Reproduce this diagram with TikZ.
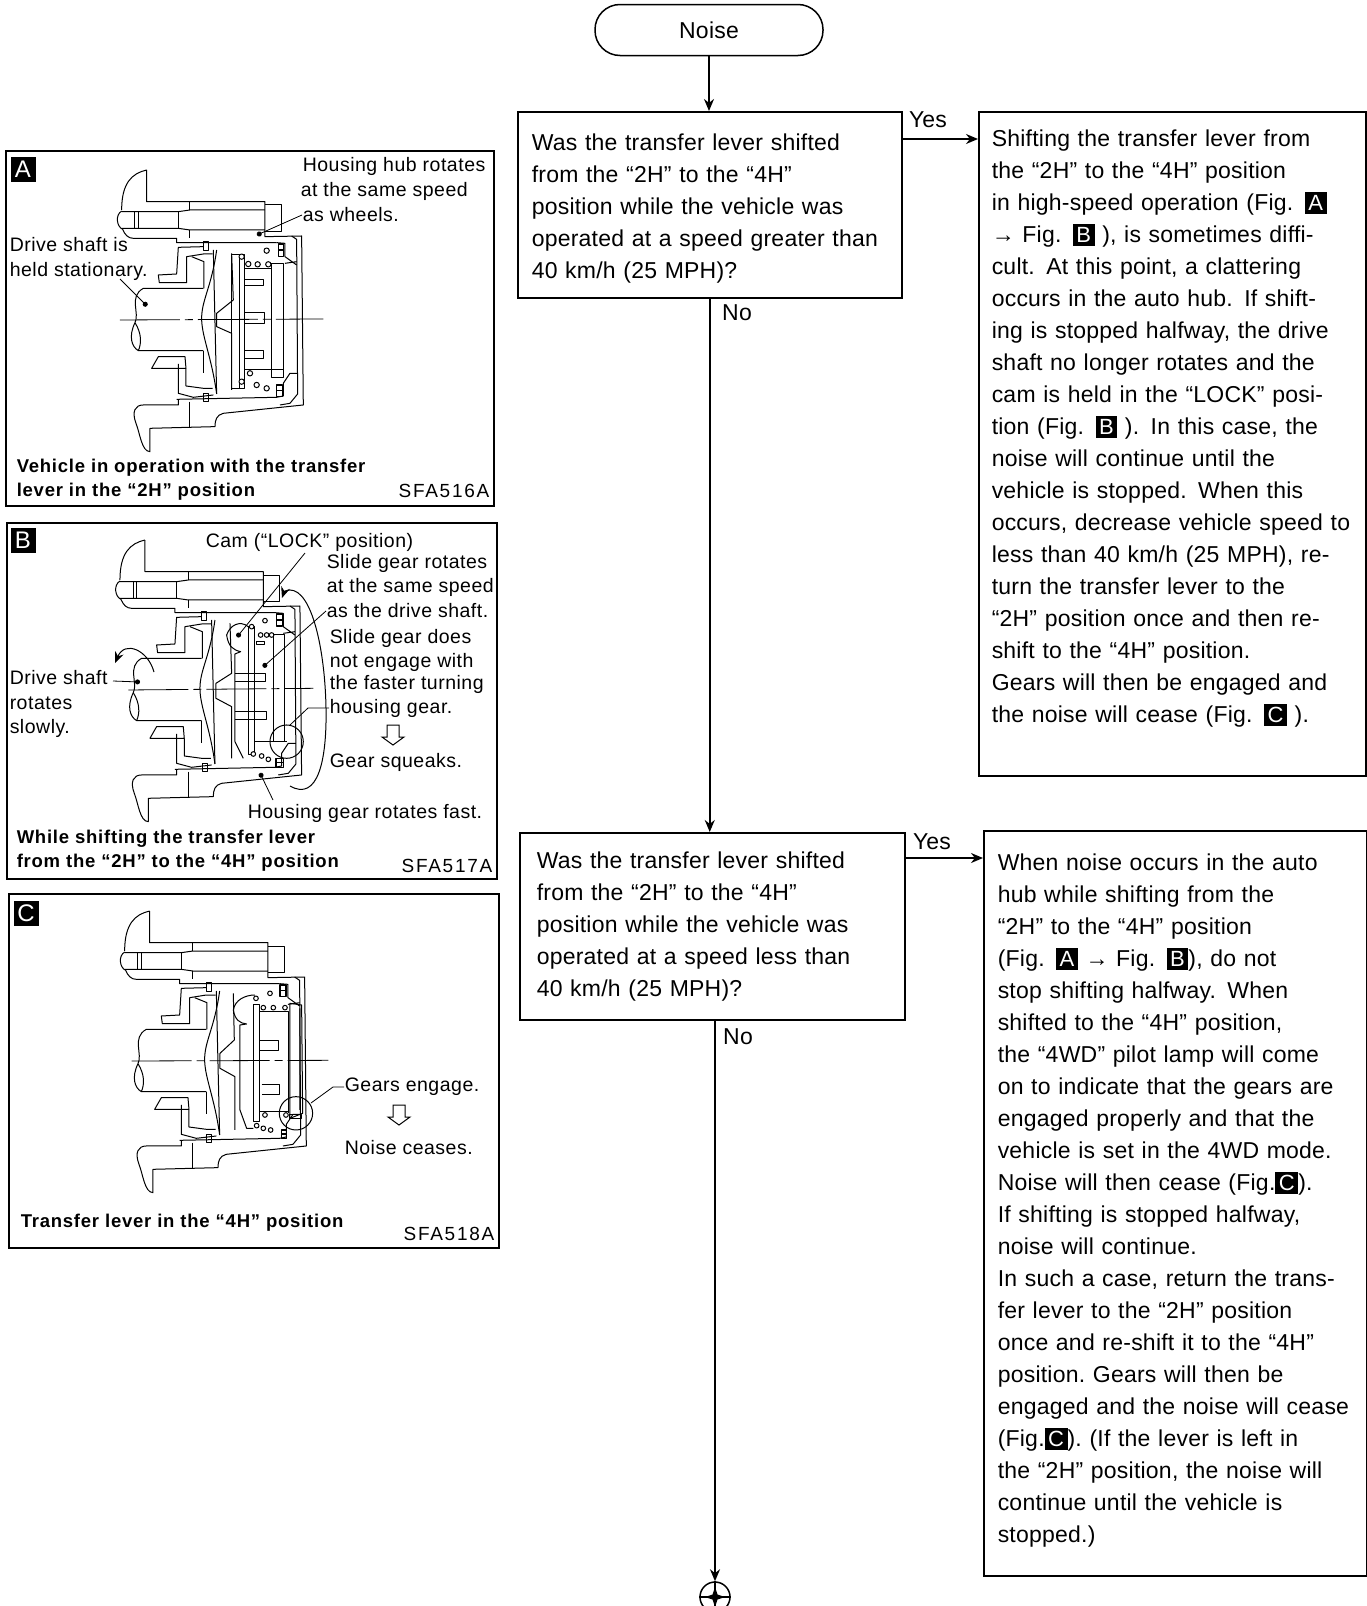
\documentclass[tikz,border=0pt]{standalone}
\usepackage{fontspec}
\setmainfont[LetterSpace=1.0]{Liberation Sans}
\newfontfamily\panelfont[LetterSpace=2.6]{Liberation Sans}
\newfontfamily\capfont[LetterSpace=4.2]{Liberation Sans}
\usetikzlibrary{arrows.meta,calc}
\newcommand{\figbadge}[1]{\raisebox{0pt}[0pt][0pt]{\setlength{\fboxsep}{3.5pt}\colorbox{black}{\textcolor{white}{\fontsize{22}{22}\selectfont #1}}}}
\tikzset{
    every picture/.style={line width=1.5pt},
    flowbox/.style={draw, rectangle, anchor=north west, align=left, font=\fontsize{23}{32}\selectfont},
    flowlink/.style={-{Stealth[length=12pt,width=10pt]}},
    flowlabel/.style={inner sep=0pt, font=\fontsize{23}{28}\selectfont},
    panelbox/.style={draw, rectangle, anchor=north west, inner sep=0pt},
    badge/.style={fill=black, text=white, inner sep=0pt, minimum size=25pt, font=\panelfont\fontsize{24}{24}\selectfont},
    lab/.style={inner sep=0pt, anchor=west, align=left, font=\panelfont\fontsize{19.5}{24.6}\selectfont},
    caption/.style={inner sep=0pt, anchor=west, align=left, font=\capfont\bfseries\fontsize{18.5}{24.4}\selectfont},
    partno/.style={inner sep=0pt, anchor=east, font=\fontsize{19}{19}\selectfont\addfontfeature{LetterSpace=9}},
    leader/.style={line width=0.8pt},
    dotend/.style={line width=0.8pt, -{Circle[length=5pt]}},
    centerline/.style={line width=0.8pt, dash pattern=on 60pt off 5pt on 8pt off 5pt},
    hubline/.style={line width=1pt, line join=round},
    hubbody/.pic={
        \draw (440,90) .. controls (395,100) and (365,130) .. (365,210);
        \draw (440,90) -- (440,185) -- (795,185) -- (795,290) -- (905,288) -- (910,795) -- (670,820)
            .. controls (650,825) and (645,840) .. (645,860) -- (450,865) -- (450,935)
            .. controls (425,935) and (420,880) .. (408,850) .. controls (395,815) and (405,795) .. (430,795) -- (535,795) -- (535,778);
        \draw (365,213) .. controls (345,225) and (350,260) .. (368,268) .. controls (375,285) and (385,295) .. (400,295) -- (530,295) -- (530,308) -- (830,308);
        \draw (365,215) -- (535,215) -- (570,210) -- (795,210);
        \draw (365,265) -- (535,265) -- (570,270) -- (795,270);
        \draw (405,215) -- (405,265) (415,215) -- (415,265) (535,215) -- (535,265);
        \draw (570,185) -- (570,210) (570,270) -- (570,295) (570,785) -- (570,865);
        \draw (795,195) -- (845,195) -- (845,275) -- (795,275);
        \draw (875,288) -- (890,298) -- (893,762) -- (870,790) -- (840,795);
        \draw (830,308) -- (855,310) -- (855,350) -- (890,375) (855,370) -- (890,365);
        \draw (530,778) -- (830,772) -- (850,768) -- (850,730) -- (870,700) -- (893,700);
        \draw (610,305) rectangle (625,332) (612,760) rectangle (627,785);
        \draw (610,320) -- (535,322) -- (530,402) -- (475,405) -- (478,428) -- (560,428) -- (560,350) -- (610,342) -- (638,342);
        \draw (575,350) -- (612,365) -- (612,445);
        \draw (610,445) -- (430,445) .. controls (385,470) and (420,520) .. (405,548) .. controls (385,590) and (395,620) .. (415,632) -- (610,632);
        \draw (405,548) .. controls (425,580) and (425,610) .. (415,632);
        \draw (610,632) -- (610,700);
        \draw (455,685) -- (475,650) -- (555,650) -- (558,685) -- cycle;
        \draw (535,672) -- (535,760) -- (580,772) -- (640,765);
        \draw (558,685) -- (558,738) -- (610,745) -- (638,745);
        \draw (640,330) -- (650,762);
        \draw (650,330) .. controls (635,440) and (605,480) .. (605,535) .. controls (605,590) and (635,650) .. (650,762);
    },
    hubA/.pic={
        \draw (695,340) -- (700,480) -- (650,520) -- (650,560) -- (695,580) -- (695,750);
        \draw (695,345) rectangle (735,745) (718,345) -- (718,745);
        \foreach \x/\y in {725/350,745/372,773/373,805/373,800/332,725/725,770/735,800/745,750/700}
            \draw[fill=white] (\x,\y) circle (8);
        \draw (735,420) -- (790,420) -- (790,438) -- (735,438);
        \draw (735,517) -- (795,517) -- (795,550) -- (735,550);
        \draw (735,632) -- (790,632) -- (790,655) -- (735,655);
        \draw (815,370) rectangle (850,690);
        \draw (735,385) -- (815,385) (735,690) -- (850,690) -- (850,712) -- (815,712) -- (815,690);
        \draw[line width=1.5pt] (835,312) rectangle (850,350) (835,330) -- (850,330) (830,735) rectangle (848,770) (830,752) -- (848,752);
        \draw[centerline] (360,540) -- (970,537);
    },
    hubB/.pic={
        \draw (690,340) -- (695,490) -- (648,520) -- (648,565) -- (695,590) -- (695,745);
        \draw (745,350) rectangle (765,735);
        \draw (680,375) .. controls (690,345) and (720,330) .. (745,350);
        \draw (680,375) .. controls (685,410) and (700,420) .. (722,425) -- (705,432) -- (705,695) -- (730,745);
        \foreach \x/\y in {755/350,795/332,760/732,785/738,805/748,782/375,800/375,815/375}
            \draw[fill=white] (\x,\y) circle (7);
        \draw (770,395) rectangle (795,405);
        \draw (705,490) -- (798,490) -- (798,515) -- (705,515);
        \draw (705,605) -- (800,605) -- (800,630) -- (705,630);
        \draw (820,375) rectangle (855,695);
        \draw (765,695) -- (860,695);
        \draw[line width=1.5pt] (830,312) rectangle (848,348) (830,330) -- (848,330) (828,745) rectangle (850,772) (828,758) -- (850,758);
        \draw[centerline] (385,540) -- (940,535);
        \draw (860,695) circle (50);
    },
    hubC/.pic={
        \draw (700,340) -- (703,480) -- (660,520) -- (660,565) -- (705,590) -- (705,750);
        \draw (760,375) rectangle (780,725);
        \draw (700,390) .. controls (705,360) and (735,345) .. (765,345);
        \draw (700,390) .. controls (705,420) and (720,430) .. (740,432) -- (720,435) -- (720,690) -- (740,745) -- (760,745);
        \foreach \x/\y in {768/355,810/340,790/383,820/383,855/383,795/705,770/737,790/745,812/750,858/705}
            \draw[fill=white] (\x,\y) circle (7);
        \draw (780,483) -- (837,483) -- (837,513) -- (780,513);
        \draw (785,615) -- (838,615) -- (838,645) -- (785,645);
        \draw (780,395) -- (865,395) -- (865,700) (780,695) -- (865,695);
        \draw (870,370) -- (905,375) -- (908,700) -- (870,715) -- cycle (900,385) -- (900,690);
        \draw (870,703) rectangle (905,715);
        \draw[line width=1.5pt] (840,315) rectangle (858,350) (840,332) -- (858,332) (845,750) rectangle (860,775) (845,762) -- (860,762);
        \draw[centerline] (395,543) -- (985,541);
        \draw (888,700) circle (50);
    },
    openarrow/.pic={
        \draw[line width=1pt] (-6,0) -- (6,0) -- (6,12) -- (11,12) -- (0,20) -- (-11,12) -- (-6,12) -- cycle;
    }
}
\begin{document}
\begin{tikzpicture}[x=1pt, y=-1pt]
    \useasboundingbox (0,0) rectangle (1367,1606);

    \node[draw, rounded corners=25pt, minimum width=228pt, minimum height=51pt, font=\fontsize{23}{28}\selectfont] (noise) at (709,30) {Noise};

    \node[flowbox, minimum width=384pt, minimum height=186pt, text width=356pt, inner xsep=14pt] (q1) at (517,111)
        {\rule{0pt}{24pt}Was the transfer lever shifted\\from the “2H” to the “4H”\\position while the vehicle was\\operated at a speed greater than\\40 km/h (25 MPH)?};
    \node[flowbox, minimum width=387pt, minimum height=664pt, text width=361pt, inner xsep=13pt] (a1) at (978,111)
        {Shifting the transfer lever from\\the “2H” to the “4H” position\\in high-speed operation (Fig. \figbadge{A}\\→ Fig. \figbadge{B} ), is sometimes diffi-\\cult.  At this point, a clattering\\occurs in the auto hub.  If shift-\\ing is stopped halfway, the drive\\shaft no longer rotates and the\\cam is held in the “LOCK” posi-\\tion (Fig. \figbadge{B} ).  In this case, the\\noise will continue until the\\vehicle is stopped.  When this\\occurs, decrease vehicle speed to\\less than 40 km/h (25 MPH), re-\\turn the transfer lever to the\\“2H” position once and then re-\\shift to the “4H” position.\\Gears will then be engaged and\\the noise will cease (Fig. \figbadge{C} ).\\[3pt]\mbox{}};
    \node[flowbox, minimum width=385pt, minimum height=187pt, text width=351pt, inner xsep=17pt] (q2) at (519,832)
        {Was the transfer lever shifted\\from the “2H” to the “4H”\\position while the vehicle was\\operated at a speed less than\\40 km/h (25 MPH)?};
    \node[flowbox, minimum width=383pt, minimum height=745pt, text width=355pt, inner xsep=14pt] (a2) at (983,830)
        {When noise occurs in the auto\\hub while shifting from the\\“2H” to the “4H” position\\(Fig. \figbadge{A} → Fig. \figbadge{B}), do not\\stop shifting halfway.  When\\shifted to the “4H” position,\\the “4WD” pilot lamp will come\\on to indicate that the gears are\\engaged properly and that the\\vehicle is set in the 4WD mode.\\Noise will then cease (Fig.\figbadge{C}).\\If shifting is stopped halfway,\\noise will continue.\\In such a case, return the trans-\\fer lever to the “2H” position\\once and re-shift it to the “4H”\\position.\ Gears will then be\\engaged and the noise will cease\\(Fig.\figbadge{C}).\ (If the lever is left in\\the “2H” position, the noise will\\continue until the vehicle is\\stopped.)\\[-22pt]\mbox{}};

    \node[draw, circle, inner sep=0pt, minimum size=30pt] (off) at (715,1597) {};
    \draw (off.north) -- (off.south) (off.west) -- (off.east);
    \fill ($(off)+(0,-10)$) -- ($(off)+(2.5,-2.5)$) -- ($(off)+(10,0)$) -- ($(off)+(2.5,2.5)$) -- ($(off)+(0,10)$) -- ($(off)+(-2.5,2.5)$) -- ($(off)+(-10,0)$) -- ($(off)+(-2.5,-2.5)$) -- cycle;

    \coordinate (yes1) at (901,139);
    \coordinate (yes2) at (904,858);
    \draw[flowlink] (noise) -- (noise |- q1.north);
    \draw[flowlink] (q1.south) -- (q1.south |- q2.north);
    \draw[flowlink] (yes1) -- (yes1 -| a1.west);
    \draw[flowlink] (yes2) -- (yes2 -| a2.west);
    \draw[flowlink] (q2.south -| off) -- (off.north);
    \node[flowlabel] (yeslab1) at (928,120) {Yes};
    \node[flowlabel] (nolab1) at (737,313) {No};
    \node[flowlabel] (yeslab2) at (932,842) {Yes};
    \node[flowlabel] (nolab2) at (738,1037) {No};

    \node[panelbox, minimum width=488pt, minimum height=355pt] (panelA) at (5,150) {};
    \node[badge] (badgeA) at (23,169) {A};
    \pic[hubline, scale=0.3333] at (0,140) {hubbody};
    \pic[hubline, scale=0.3333] at (0,140) {hubA};
    \node[lab] (hubA1) at (302,166) {Housing hub rotates};
    \node[lab] (hubA2) at (300,191) {at the same speed};
    \node[lab] (hubA3) at (302,215) {as wheels.};
    \node[lab] (shaftA) at (9,259) {Drive shaft is\\held stationary.};
    \node[caption] (capA) at (16,480) {Vehicle in operation with the transfer\\lever in the “2H” position};
    \node[partno] (noA) at (490,491) {SFA516A};
    \coordinate (dotA1) at (257,235);
    \coordinate (dotA2) at (147,306);
    \coordinate (startA2) at (120,279);
    \draw[dotend] (hubA3.west) -- (dotA1);
    \draw[dotend] (startA2) -- (dotA2);

    \node[panelbox, minimum width=490pt, minimum height=356pt] (panelB) at (6,522) {};
    \node[badge] (badgeB) at (23,540) {B};
    \pic[hubline, scale=0.3333] at (-1.7,510) {hubbody};
    \pic[hubline, scale=0.3333] at (0,510) {hubB};
    \node[lab] (camB) at (205,542) {Cam (“LOCK” position)};
    \node[lab] (rotB1) at (326,563) {Slide gear rotates};
    \node[lab] (rotB2) at (326,587) {at the same speed};
    \node[lab] (rotB3) at (326,611) {as the drive shaft.};
    \node[lab] (engB1) at (329,638) {Slide gear does};
    \node[lab] (engB2) at (329,662) {not engage with};
    \node[lab] (engB3) at (329,684) {the faster turning};
    \node[lab] (engB4) at (329,708) {housing gear.};
    \pic at (393,725) {openarrow};
    \node[lab] (squeakB) at (329,762) {Gear squeaks.};
    \node[lab] (fastB) at (247,813) {Housing gear rotates fast.};
    \node[lab] (shaftB) at (9,704) {Drive shaft\\rotates\\slowly.};
    \node[caption] (capB) at (16,851) {While shifting the transfer lever\\from the “2H” to the “4H” position};
    \node[partno] (noB) at (493,866) {SFA517A};
    \coordinate (dotB1) at (237,637);
    \coordinate (dotB2) at (263,667);
    \coordinate (dotB3) at (140,682);
    \coordinate (dotB4) at (260,773);
    \coordinate (ringB) at (290,725);
    \coordinate (startB1) at (305,553);
    \coordinate (startB3) at (113,681);
    \coordinate (startB4) at (273,800);
    \coordinate (bendB) at (308,708);
    \draw[dotend] (startB1) -- (dotB1);
    \draw[dotend] (rotB3.west) -- (dotB2);
    \draw[dotend] (startB3) -- (dotB3);
    \draw[dotend] (startB4) -- (dotB4);
    \draw[leader] (engB4.west) -- (bendB) -- (ringB);
    \draw[line width=1pt, -{Stealth[length=11pt,width=9pt]}] (290,786) .. controls (318,802) and (327,760) .. (326,708) .. controls (325,650) and (312,590) .. (290,590) .. controls (287,590) and (284,592) .. (282,598);
    \draw[line width=1pt, -{Stealth[length=11pt,width=9pt]}] (154,672) .. controls (148,650) and (125,640) .. (115,663);

    \node[panelbox, minimum width=490pt, minimum height=354pt] (panelC) at (8,893) {};
    \node[badge] (badgeC) at (26,913) {C};
    \pic[hubline, scale=0.3333] at (3,881) {hubbody};
    \pic[hubline, scale=0.3333] at (0,880) {hubC};
    \node[lab] (gearsC) at (344,1087) {Gears engage.};
    \pic at (399,1105) {openarrow};
    \node[lab] (ceaseC) at (344,1148) {Noise ceases.};
    \node[caption] (capC) at (20,1223) {Transfer lever in the “4H” position};
    \node[partno] (noC) at (495,1234) {SFA518A};
    \coordinate (bendC) at (333,1087);
    \coordinate (ringC) at (311,1103);
    \draw[leader] (gearsC.west) -- (bendC) -- (ringC);
\end{tikzpicture}
\end{document}
